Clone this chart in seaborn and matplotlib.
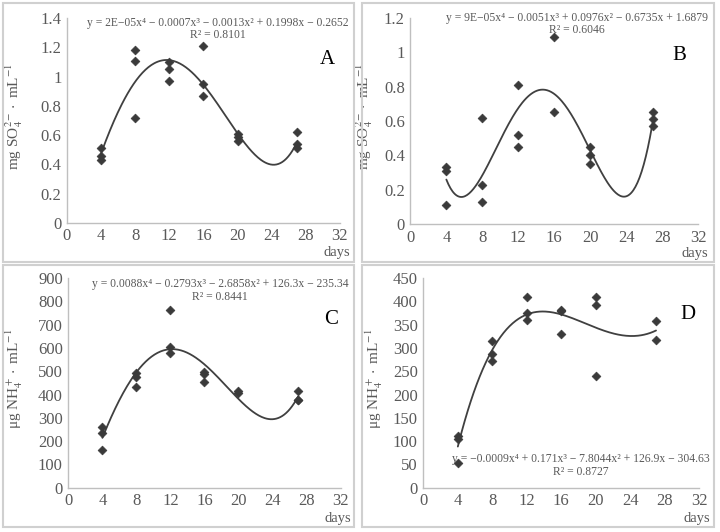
import numpy as np
import pandas as pd
import seaborn as sns
import matplotlib.pyplot as plt
from matplotlib.patches import Rectangle

days_a = [4, 4, 4, 8, 8, 8, 12, 12, 12, 16, 16, 16, 20, 20, 20, 27, 27, 27]
so4_a = [0.51, 0.46, 0.43, 1.18, 1.11, 0.72, 1.10, 1.05, 0.97, 1.21, 0.95, 0.87,
         0.61, 0.59, 0.56, 0.62, 0.54, 0.51]

days_b = [4, 4, 4, 8, 8, 8, 12, 12, 12, 16, 16, 20, 20, 20, 27, 27, 27]
so4_b = [0.33, 0.31, 0.11, 0.62, 0.23, 0.13, 0.81, 0.52, 0.45, 1.09, 0.65,
         0.45, 0.40, 0.35, 0.65, 0.61, 0.57]

days_c = [4, 4, 4, 8, 8, 8, 12, 12, 12, 16, 16, 16, 20, 20, 27, 27, 27]
nh4_c = [262, 236, 162, 494, 474, 434, 764, 606, 577, 497, 490, 453,
         415, 405, 417, 377, 375]

days_d = [4, 4, 4, 8, 8, 8, 12, 12, 12, 16, 16, 16, 20, 20, 20, 27, 27]
nh4_d = [110, 104, 54, 315, 287, 271, 409, 375, 360, 382, 379, 329,
         410, 392, 239, 358, 316]

eq_a = "y = 2E\u221205x\u2074 \u2212 0.0007x\u00b3 \u2212 0.0013x\u00b2 + 0.1998x \u2212 0.2652"
eq_b = "y = 9E\u221205x\u2074 \u2212 0.0051x\u00b3 + 0.0976x\u00b2 \u2212 0.6735x + 1.6879"
eq_c = "y = 0.0088x\u2074 \u2212 0.2793x\u00b3 \u2212 2.6858x\u00b2 + 126.3x \u2212 235.34"
eq_d = "y = \u22120.0009x\u2074 + 0.171x\u00b3 \u2212 7.8044x\u00b2 + 126.9x \u2212 304.63"
r2_a, r2_b, r2_c, r2_d = "R\u00b2 = 0.8101", "R\u00b2 = 0.6046", "R\u00b2 = 0.8441", "R\u00b2 = 0.8727"

so4_label = r"mg SO$_4^{2-}\cdot$ mL$^{-1}$"
nh4_label = "\u03bcg NH$_4^+\\cdot$ mL$^{-1}$"

sns.set_style("white")
plt.rcParams['font.family'] = ['Liberation Serif', 'DejaVu Serif']
plt.rcParams['mathtext.fontset'] = 'stix'

fig = plt.figure(figsize=(7.2, 5.32), dpi=100)

# Rahmen der vier Diagrammflaechen
for (x0, y0, w, h) in [(3, 3, 351, 259), (362, 3, 352, 259), (3, 265, 351, 262), (362, 265, 352, 262)]:
    fig.patches.append(Rectangle((x0 / 720, 1 - (y0 + h) / 532), w / 720, h / 532,
                                 transform=fig.transFigure, fill=False,
                                 edgecolor="#d0d0d0", linewidth=1.5))

panels = [
    dict(rect=[0.093, 0.581, 0.379, 0.385], x=days_a, y=so4_a, ymax=1.4, step=0.2,
         eq=eq_a, r2=r2_a, eqpos=(0.553, 0.977, 0.917), tag="A", tagpos=(0.956, 0.80),
         ylab=so4_label, ylx=-0.154),
    dict(rect=[0.570, 0.579, 0.3995, 0.387], x=days_b, y=so4_b, ymax=1.2, step=0.2,
         eq=eq_b, r2=r2_b, eqpos=(0.578, 1.0, 0.943), tag="B", tagpos=(0.935, 0.82),
         ylab=so4_label, ylx=-0.124),
    dict(rect=[0.095, 0.0833, 0.378, 0.394], x=days_c, y=nh4_c, ymax=900, step=100,
         eq=eq_c, r2=r2_c, eqpos=(0.557, 0.973, 0.912), tag="C", tagpos=(0.964, 0.80),
         ylab=nh4_label, ylx=-0.159),
    dict(rect=[0.588, 0.0833, 0.383, 0.394], x=days_d, y=nh4_d, ymax=450, step=50,
         eq=eq_d, r2=r2_d, eqpos=(0.571, 0.137, 0.074), tag="D", tagpos=(0.96, 0.825),
         ylab=nh4_label, ylx=-0.139),
]

grey = "#595959"
for p in panels:
    ax = fig.add_axes(p["rect"])
    df = pd.DataFrame({"days": p["x"], "val": p["y"]})

    # Polynom 4. Grades als Trendlinie
    coef = np.polyfit(df["days"], df["val"], 4)
    xs = np.linspace(4, 27, 200)
    fit = pd.DataFrame({"days": xs, "val": np.polyval(coef, xs)})
    sns.lineplot(data=fit, x="days", y="val", ax=ax, color="#404040", linewidth=1.3)
    sns.scatterplot(data=df, x="days", y="val", ax=ax, marker="D", s=20,
                    color="#3a3a3a", edgecolor="#3a3a3a", linewidth=0.5, zorder=3)

    ax.set_xlim(0, 32)
    ax.set_ylim(0, p["ymax"])
    ax.set_xticks(range(0, 33, 4))
    yt = np.round(np.arange(0, p["ymax"] + p["step"] / 2, p["step"]), 2)
    ax.set_yticks(yt)
    if p["step"] < 1:
        ax.set_yticklabels([("%g" % v) for v in yt])
    ax.tick_params(length=0, labelsize=12, labelcolor=grey, pad=4)
    for s in ["top", "right"]:
        ax.spines[s].set_visible(False)
    for s in ["left", "bottom"]:
        ax.spines[s].set_color("#bfbfbf")
        ax.spines[s].set_linewidth(1.0)
    ax.set_xlabel("")
    ax.set_ylabel(p["ylab"], fontsize=11, color=grey)
    ax.yaxis.set_label_coords(p["ylx"], 0.52)

    ex, ey, ry = p["eqpos"]
    ax.text(ex, ey, p["eq"], transform=ax.transAxes, ha="center", va="center",
            fontsize=8.4, color=grey)
    ax.text(ex, ry, p["r2"], transform=ax.transAxes, ha="center", va="center",
            fontsize=8.4, color=grey)
    ax.text(p["tagpos"][0], p["tagpos"][1], p["tag"], transform=ax.transAxes,
            ha="center", va="center", fontsize=15, color="black")
    ax.text(0.99, -0.145, "days", transform=ax.transAxes, ha="center", va="center",
            fontsize=10.5, color=grey)

plt.savefig("out.png", dpi=100)
